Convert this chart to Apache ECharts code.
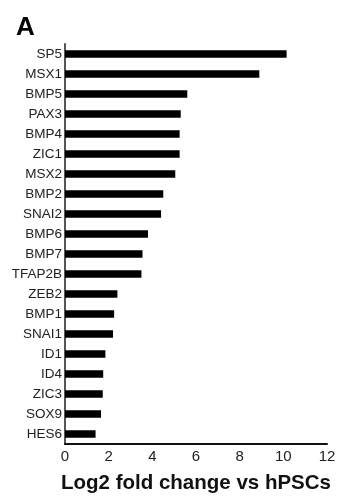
<!DOCTYPE html>
<html>
<head>
<meta charset="utf-8">
<style>
  html, body { margin: 0; padding: 0; background: #fff; }
  #chart { width: 340px; height: 499px; }
</style>
<script src="https://cdn.jsdelivr.net/npm/echarts@6/dist/echarts.min.js"></script>
</head>
<body>
<div id="chart"></div>
<script>
// Genes, ordered from top to bottom
const genes = ['SP5', 'MSX1', 'BMP5', 'PAX3', 'BMP4', 'ZIC1', 'MSX2', 'BMP2', 'SNAI2', 'BMP6',
               'BMP7', 'TFAP2B', 'ZEB2', 'BMP1', 'SNAI1', 'ID1', 'ID4', 'ZIC3', 'SOX9', 'HES6'];
// Log2 fold change vs hPSCs
const log2FC = [10.15, 8.9, 5.6, 5.3, 5.25, 5.25, 5.05, 4.5, 4.4, 3.8,
                3.55, 3.5, 2.4, 2.25, 2.2, 1.85, 1.75, 1.73, 1.65, 1.4];
// X axis ticks
const xTicks = [0, 2, 4, 6, 8, 10, 12];

const FONT = 'Liberation Sans, Arial, Helvetica, sans-serif';

const chart = echarts.init(document.getElementById('chart'), null, { renderer: 'canvas' });
chart.setOption({
  animation: false,
  backgroundColor: '#ffffff',
  title: {
    text: 'A',
    left: 11,
    top: 10,
    textStyle: { fontFamily: FONT, fontSize: 26, fontWeight: 'bold', color: '#000' }
  },
  grid: { left: 65, right: 13, top: 44, bottom: 55, containLabel: false },
  xAxis: {
    type: 'value',
    min: xTicks[0],
    max: xTicks[xTicks.length - 1],
    interval: 2,
    name: 'Log2 fold change vs hPSCs',
    nameLocation: 'middle',
    nameGap: 29,
    nameTextStyle: { fontFamily: FONT, fontSize: 20.5, fontWeight: 'bold', color: '#111' },
    axisLine: { show: true, lineStyle: { color: '#111', width: 2 } },
    axisTick: { show: false },
    splitLine: { show: false },
    axisLabel: { fontFamily: FONT, fontSize: 15, color: '#222', margin: 5 }
  },
  yAxis: {
    type: 'category',
    data: genes,
    inverse: true,
    axisLine: { show: true, lineStyle: { color: '#555', width: 2 } },
    axisTick: { show: false },
    axisLabel: { fontFamily: FONT, fontSize: 13.5, color: '#222', margin: 3 }
  },
  series: [{
    type: 'bar',
    data: log2FC,
    barWidth: 7.5,
    itemStyle: { color: '#000' },
    silent: true
  }]
});
</script>
</body>
</html>
